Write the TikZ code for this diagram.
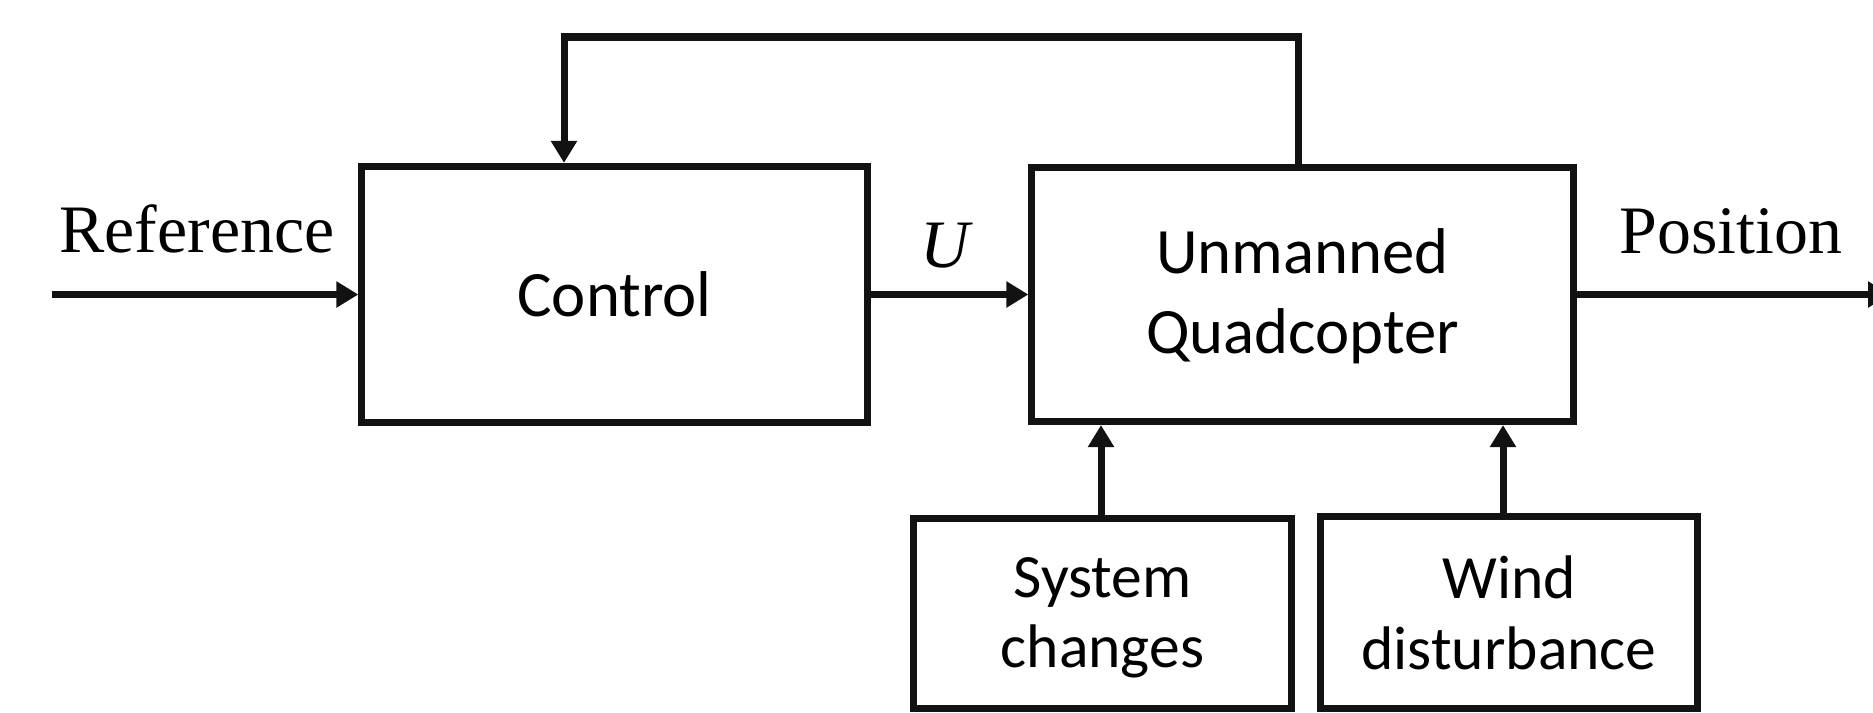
\documentclass[tikz,border=0pt]{standalone}
\usepackage{fontspec}
\setmainfont{Liberation Serif}
\newfontfamily\boxfont{Carlito}
\usetikzlibrary{arrows.meta}
\begin{document}
\begin{tikzpicture}[x=0.01cm,y=-0.01cm,
  blk/.style={draw=black!93,line width=0.07cm,rectangle,inner sep=0pt,align=center,
    font=\boxfont\fontsize{18.4}{23}\selectfont},
  arr/.style={draw=black!93,line width=0.07cm,line join=miter,
    -{Triangle[length=0.22cm,width=0.25cm]}},
  lbl/.style={font=\fontsize{19.3}{22}\selectfont,inner sep=0pt}]
\useasboundingbox (0,0) rectangle (1873,712);

% blocks
\node[blk,minimum width=5.05cm,minimum height=2.56cm] (ctrl) at (614.5,294.5) {Control};
\node[blk,minimum width=5.41cm,minimum height=2.54cm,text depth=2pt] (quad) at (1302.5,294.5) {Unmanned\\Quadcopter};
\node[blk,minimum width=3.77cm,minimum height=1.89cm,text depth=0.5pt,
  font=\boxfont\fontsize{17.5}{20}\selectfont] (sys) at (1102.5,613.5) {System\\changes};
\node[blk,minimum width=3.77cm,minimum height=1.91cm,
  font=\boxfont\fontsize{17.5}{20.2}\selectfont] (wind) at (1509,612.5) {Wind\\disturbance};

% signal labels
\node[lbl,anchor=base] (reflbl) at (197,252) {Reference};
\node[lbl,anchor=base] (poslbl) at (1731,253) {Position};
\node[lbl] (ulbl) at (947,246) {\textit{U}};

% free ends and feedback corners
\coordinate (in) at (52,294.5);
\coordinate (out) at (1890,294.5);
\coordinate (fbR) at (1298,37);
\coordinate (fbL) at (564,37);

% connectors
\draw[arr] (in) -- (ctrl.west |- in);
\draw[arr] (ctrl.east) -- (quad.west);
\draw[arr] (quad.east) -- (out);
\draw[arr] (fbR |- quad.north) -- (fbR) -- (fbL) -- (fbL |- ctrl.north);
\draw[arr] ([xshift=-0.015cm]sys.north) -- ([xshift=-0.015cm]sys.north |- quad.south);
\draw[arr] ([xshift=-0.06cm]wind.north) -- ([xshift=-0.06cm]wind.north |- quad.south);
\end{tikzpicture}
\end{document}
